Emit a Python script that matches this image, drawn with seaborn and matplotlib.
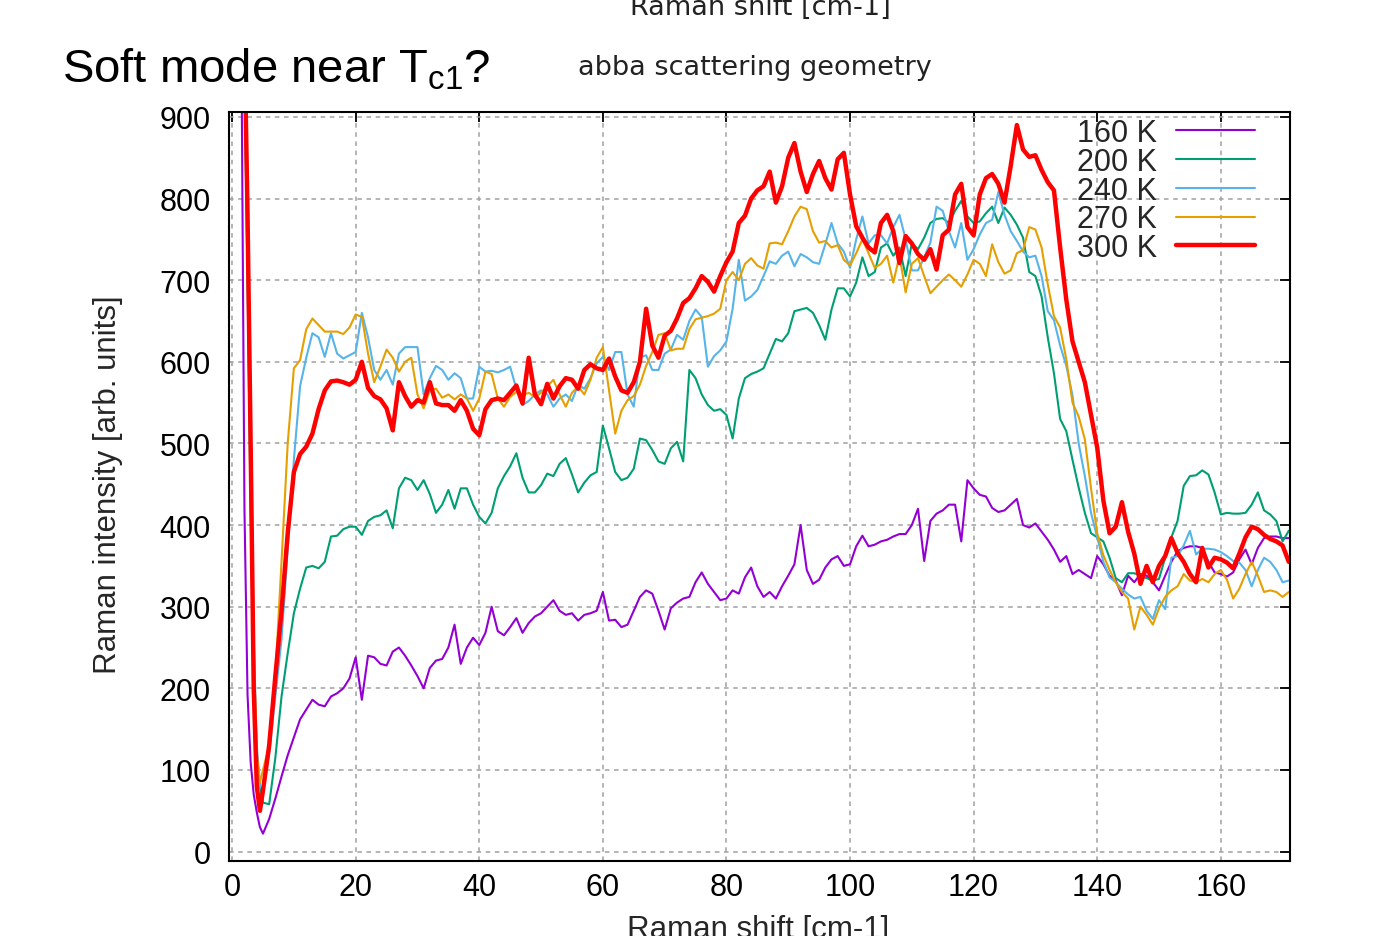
import numpy as np
import pandas as pd
import matplotlib
matplotlib.use("Agg")
import matplotlib.pyplot as plt
import seaborn as sns

# ---------------- data ----------------
temps = ["160 K", "200 K", "240 K", "270 K", "300 K"]
colors = ["#9400d3", "#009e73", "#56b4e9", "#e69f00", "#ff0000"]

# Raman shift sampling positions [cm-1]
shift = np.r_[np.arange(1.5, 5.5, 0.5), np.arange(6, 172, 1)]

i160 = [1000, 420, 192, 110, 70, 48, 30, 22,
        40, 65, 92, 118, 140, 162, 174, 186, 180, 178,
        190, 194, 200, 212, 238, 186, 240, 238, 230, 228,
        245, 250, 240, 228, 215, 200, 225, 234, 236, 250,
        278, 230, 250, 262, 253, 268, 300, 270, 265, 275,
        286, 268, 280, 288, 292, 300, 308, 295, 290, 292,
        283, 290, 292, 295, 318, 283, 284, 275, 278, 295,
        312, 320, 316, 295, 272, 298, 305, 310, 312, 330,
        342, 328, 318, 308, 310, 320, 316, 336, 348, 325,
        312, 318, 310, 325, 338, 352, 400, 345, 328, 333,
        348, 358, 362, 350, 352, 374, 387, 374, 376, 380,
        382, 386, 389, 389, 400, 420, 356, 405, 414, 418,
        425, 425, 380, 455, 445, 437, 435, 421, 416, 418,
        425, 432, 400, 397, 402, 392, 382, 370, 355, 362,
        340, 345, 340, 335, 362, 352, 338, 332, 314, 338,
        330, 340, 338, 330, 320, 338, 355, 368, 372, 374,
        374, 372, 355, 342, 340, 337, 342, 358, 370, 352,
        372, 384, 386, 386, 384, 384]

i200 = [1000, 950, 700, 420, 220, 120, 80, 60,
        58, 115, 190, 243, 292, 322, 348, 350, 347, 355,
        386, 387, 395, 398, 398, 388, 405, 410, 412, 418,
        396, 445, 458, 455, 443, 455, 438, 415, 425, 443,
        420, 445, 445, 425, 410, 402, 415, 445, 460, 472,
        488, 458, 440, 440, 449, 463, 460, 475, 482, 462,
        440, 452, 461, 465, 522, 494, 465, 455, 458, 469,
        506, 504, 492, 478, 475, 494, 502, 478, 590, 580,
        560, 547, 540, 542, 535, 506, 555, 580, 585, 588,
        592, 610, 628, 625, 635, 662, 664, 666, 660, 645,
        627, 664, 690, 690, 680, 697, 728, 705, 710, 740,
        745, 730, 740, 705, 745, 738, 752, 770, 775, 776,
        770, 785, 797, 778, 770, 772, 782, 790, 770, 789,
        780, 768, 752, 710, 705, 680, 630, 586, 530, 515,
        480, 446, 415, 390, 385, 380, 360, 335, 330, 341,
        341, 338, 335, 332, 334, 360, 385, 405, 448, 460,
        461, 467, 462, 440, 413, 415, 414, 414, 415, 425,
        440, 418, 413, 405, 380, 393]

i240 = [1000, 1000, 780, 520, 260, 130, 80, 75,
        120, 190, 260, 370, 480, 570, 605, 635, 630, 606,
        635, 610, 604, 608, 612, 660, 630, 590, 578, 590,
        572, 610, 618, 618, 618, 560, 580, 595, 590, 578,
        586, 580, 555, 555, 594, 588, 589, 587, 590, 594,
        567, 547, 552, 560, 565, 560, 545, 555, 560, 552,
        572, 567, 580, 598, 606, 590, 612, 612, 560, 545,
        605, 608, 590, 590, 610, 615, 633, 627, 650, 664,
        655, 594, 607, 614, 625, 665, 725, 675, 680, 688,
        705, 723, 720, 730, 735, 717, 732, 728, 722, 720,
        744, 770, 745, 735, 715, 750, 778, 745, 755, 755,
        745, 765, 780, 750, 712, 712, 728, 746, 790, 785,
        760, 740, 770, 725, 738, 756, 770, 774, 808, 780,
        760, 748, 735, 728, 730, 705, 662, 651, 620, 595,
        559, 500, 460, 415, 385, 355, 336, 330, 322, 315,
        310, 312, 295, 285, 308, 297, 360, 362, 375, 393,
        364, 371, 371, 370, 367, 362, 356, 354, 345, 325,
        345, 360, 355, 345, 330, 332]

i270 = [1000, 1000, 780, 520, 250, 120, 85, 100,
        130, 215, 355, 500, 592, 602, 640, 653, 645, 637,
        637, 637, 634, 642, 658, 655, 610, 575, 594, 615,
        605, 588, 600, 605, 560, 543, 565, 567, 556, 560,
        554, 560, 555, 540, 555, 588, 585, 555, 545, 557,
        563, 559, 562, 557, 562, 570, 578, 560, 545, 562,
        570, 560, 578, 605, 618, 565, 512, 540, 553, 558,
        572, 595, 612, 633, 635, 614, 616, 616, 640, 652,
        654, 656, 659, 665, 700, 710, 700, 720, 727, 718,
        714, 745, 746, 744, 760, 778, 790, 787, 760, 746,
        748, 740, 743, 725, 718, 733, 750, 733, 715, 720,
        730, 697, 730, 685, 720, 727, 705, 684, 692, 700,
        707, 700, 692, 707, 725, 720, 705, 744, 722, 708,
        712, 733, 737, 765, 762, 740, 695, 656, 642, 603,
        550, 533, 505, 445, 390, 363, 345, 330, 318, 310,
        272, 300, 290, 278, 298, 312, 320, 325, 340, 332,
        330, 334, 330, 340, 345, 333, 310, 322, 340, 355,
        338, 318, 320, 318, 312, 318]

i300 = [1000, 1000, 780, 500, 200, 80, 50, 75,
        130, 215, 295, 390, 465, 487, 496, 512, 542, 565,
        576, 577, 575, 572, 578, 600, 568, 558, 554, 543,
        516, 575, 558, 545, 553, 550, 575, 549, 547, 547,
        540, 553, 540, 518, 510, 542, 553, 555, 553, 562,
        571, 549, 605, 560, 548, 573, 555, 570, 580, 578,
        567, 590, 597, 592, 590, 604, 582, 565, 562, 575,
        600, 665, 620, 605, 632, 638, 653, 672, 678, 690,
        705, 698, 686, 705, 722, 735, 770, 779, 800, 810,
        815, 833, 795, 815, 850, 868, 833, 808, 830, 846,
        825, 811, 848, 856, 805, 766, 752, 740, 734, 770,
        780, 760, 721, 754, 745, 732, 725, 738, 713, 755,
        762, 805, 818, 765, 755, 805, 825, 830, 818, 795,
        840, 890, 860, 851, 853, 835, 820, 810, 740, 676,
        625, 600, 575, 535, 495, 430, 390, 398, 428, 392,
        365, 328, 350, 330, 350, 362, 384, 366, 355, 340,
        330, 372, 348, 360, 358, 354, 347, 365, 385, 398,
        395, 388, 383, 380, 375, 355]

series = [i160, i200, i240, i270, i300]
df = pd.DataFrame({
    "shift": np.tile(shift, len(temps)),
    "intensity": np.concatenate([np.asarray(s, float) for s in series]),
    "temp": np.repeat(temps, len(shift)),
})

# ---------------- style ----------------
sns.set_style("white")
plt.rcParams["font.family"] = ["Liberation Sans", "DejaVu Sans"]
plt.rcParams["mathtext.fontset"] = "custom"
plt.rcParams["mathtext.rm"] = "Liberation Sans"
plt.rcParams["mathtext.it"] = "Liberation Sans:italic"

W, H = 1400, 937
fig = plt.figure(figsize=(W / 100, H / 100), dpi=100)
fig.patch.set_facecolor("white")
L, R, T, B = 229, 1290, 113, 862
ax = fig.add_axes([L / W, (H - B) / H, (R - L) / W, (B - T) / H])

sns.lineplot(data=df, x="shift", y="intensity", hue="temp", size="temp",
             hue_order=temps, size_order=temps,
             palette=dict(zip(temps, colors)),
             sizes=dict(zip(temps, [1.5, 1.5, 1.5, 1.5, 3.2])),
             estimator=None, sort=False, legend=False, ax=ax)

ax.set_xlim(-0.5, 171.2)
ax.set_ylim(-11.5, 906)
ax.set_xticks(np.arange(0, 161, 20))
ax.set_yticks(np.arange(0, 901, 100))
ax.grid(True, color="#a0a0a0", linestyle=(0, (3, 3)), linewidth=1.1)
ax.set_axisbelow(True)
for sp in ax.spines.values():
    sp.set_color("black")
    sp.set_linewidth(1.5)
ax.tick_params(axis="both", direction="in", length=7, width=1.3,
               top=True, right=True, labelsize=22, colors="black")
ax.tick_params(axis="y", pad=13)
ax.tick_params(axis="x", pad=8)

ax.set_xlabel("Raman shift [cm-1]", fontsize=22.5)
ax.xaxis.set_label_coords((758 - L) / (R - L), (B - 915) / (B - T))
ax.set_ylabel("Raman intensity [arb. units]", fontsize=22.5, va="center")
ax.yaxis.set_label_coords((108 - L) / (R - L), (B - 485) / (B - T))

leg = ax.legend(ax.lines[:5], temps, loc="upper right",
                bbox_to_anchor=((1255 - L) / (R - L), (B - 119) / (B - T)),
                frameon=False, markerfirst=False, fontsize=22,
                handlelength=2.6, handletextpad=0.6, labelspacing=-0.04,
                borderaxespad=0, borderpad=0)

# slide texts
fig.text(62 / W, 1 - 82 / H, r"Soft mode near $\mathrm{T}_{\mathrm{c1}}$?",
         fontsize=34, ha="left", va="baseline", color="black")
fig.text(578 / W, 1 - 75 / H, "abba scattering geometry",
         fontsize=19.5, family=["DejaVu Sans"], ha="left", va="baseline",
         color="#222222")
fig.text(760 / W, 1 - 15 / H, "Raman shift [cm-1]", fontsize=19.5,
         family=["DejaVu Sans"], ha="center", va="baseline", color="#222222")

fig.savefig("out.png", dpi=100)
